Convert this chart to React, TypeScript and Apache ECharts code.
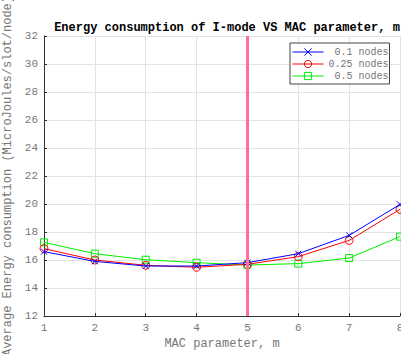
import React, { useEffect, useRef } from "react";
import * as echarts from "echarts";

const xValues = [1, 2, 3, 4, 5, 6, 7, 8];
const nodes01 = [16.6, 15.9, 15.57, 15.57, 15.81, 16.45, 17.76, 19.97];
const nodes025 = [16.81, 16.0, 15.62, 15.48, 15.69, 16.24, 17.4, 19.62];
const nodes05 = [17.26, 16.45, 16.02, 15.81, 15.64, 15.74, 16.14, 17.67];
const seriesNames = [" 0.1 nodes", "0.25 nodes", " 0.5 nodes"];
const markerX = 5;

const FONT = "'Liberation Mono', 'DejaVu Sans Mono', monospace";

export default function App() {
  const ref = useRef<HTMLDivElement>(null);
  useEffect(() => {
    if (!ref.current) return;
    const chart = echarts.init(ref.current, undefined, { renderer: "svg" });
    const toPairs = (arr: number[]) => xValues.map((x, i) => [x, arr[i]]);
    chart.setOption({
      animation: false,
      backgroundColor: "#ffffff",
      title: {
        text: "Energy consumption of I-mode VS MAC parameter, m",
        left: 222,
        textAlign: "center",
        top: 17,
        textStyle: { fontFamily: FONT, fontSize: 12, fontWeight: "bold", color: "#000" },
      },
      legend: {
        left: 290,
        top: 43,
        orient: "vertical",
        backgroundColor: "#fff",
        borderColor: "#444",
        borderWidth: 1,
        borderRadius: 0,
        padding: [4, 1, 3, 2],
        itemGap: 2,
        itemWidth: 31,
        itemHeight: 9,
        lineStyle: { width: 1 },
        itemStyle: { borderWidth: 1 },
        textStyle: { fontFamily: FONT, fontSize: 10, color: "#777" },
        data: seriesNames,
      },
      grid: { left: 44, right: 1, top: 36, bottom: 38, outerBoundsMode: "none", containLabel: false },
      xAxis: {
        type: "value",
        min: 1,
        max: 8,
        interval: 1,
        name: "MAC parameter, m",
        nameLocation: "middle",
        nameGap: 22,
        nameTextStyle: { fontFamily: FONT, fontSize: 12, color: "#777" },
        axisLine: { show: true, lineStyle: { color: "#333" } },
        axisTick: { show: true, inside: true, length: 3, lineStyle: { color: "#333" } },
        axisLabel: { fontFamily: FONT, fontSize: 11, color: "#777", margin: 6 },
        splitLine: { show: true, lineStyle: { color: "#e2e2e2" } },
      },
      yAxis: {
        type: "value",
        min: 12,
        max: 32,
        interval: 2,
        name: "Average Energy consumption (MicroJoules/slot/node)",
        nameLocation: "middle",
        nameGap: 27,
        nameTextStyle: { fontFamily: FONT, fontSize: 12, color: "#777" },
        axisLine: { show: true, lineStyle: { color: "#333" } },
        axisTick: { show: true, inside: true, length: 3, lineStyle: { color: "#333" } },
        axisLabel: { fontFamily: FONT, fontSize: 11, color: "#777", margin: 6 },
        splitLine: { show: true, lineStyle: { color: "#e2e2e2" } },
      },
      series: [
        {
          name: seriesNames[0],
          type: "line",
          data: toPairs(nodes01),
          symbol: "path://M0,0L10,10M10,0L0,10",
          symbolSize: 6,
          lineStyle: { color: "#0000ff", width: 1 },
          itemStyle: { color: "#0000ff", borderColor: "#0000ff", borderWidth: 1 },
          z: 3,
          markLine: {
            silent: true,
            symbol: "none",
            label: { show: false },
            lineStyle: { color: "#ff6f9c", width: 3, type: "solid" },
            data: [{ xAxis: markerX }],
          },
        },
        {
          name: seriesNames[1],
          type: "line",
          data: toPairs(nodes025),
          symbol: "circle",
          symbolSize: 8,
          lineStyle: { color: "#ff0000", width: 1 },
          itemStyle: { color: "transparent", borderColor: "#ff0000", borderWidth: 1 },
          z: 2,
        },
        {
          name: seriesNames[2],
          type: "line",
          data: toPairs(nodes05),
          symbol: "rect",
          symbolSize: 7,
          lineStyle: { color: "#00ee00", width: 1 },
          itemStyle: { color: "transparent", borderColor: "#00ee00", borderWidth: 1 },
          z: 1,
        },
      ],
    });
    return () => chart.dispose();
  }, []);
  return <div ref={ref} style={{ width: 401, height: 354, position: "absolute", left: 0, top: 0 }} />;
}
